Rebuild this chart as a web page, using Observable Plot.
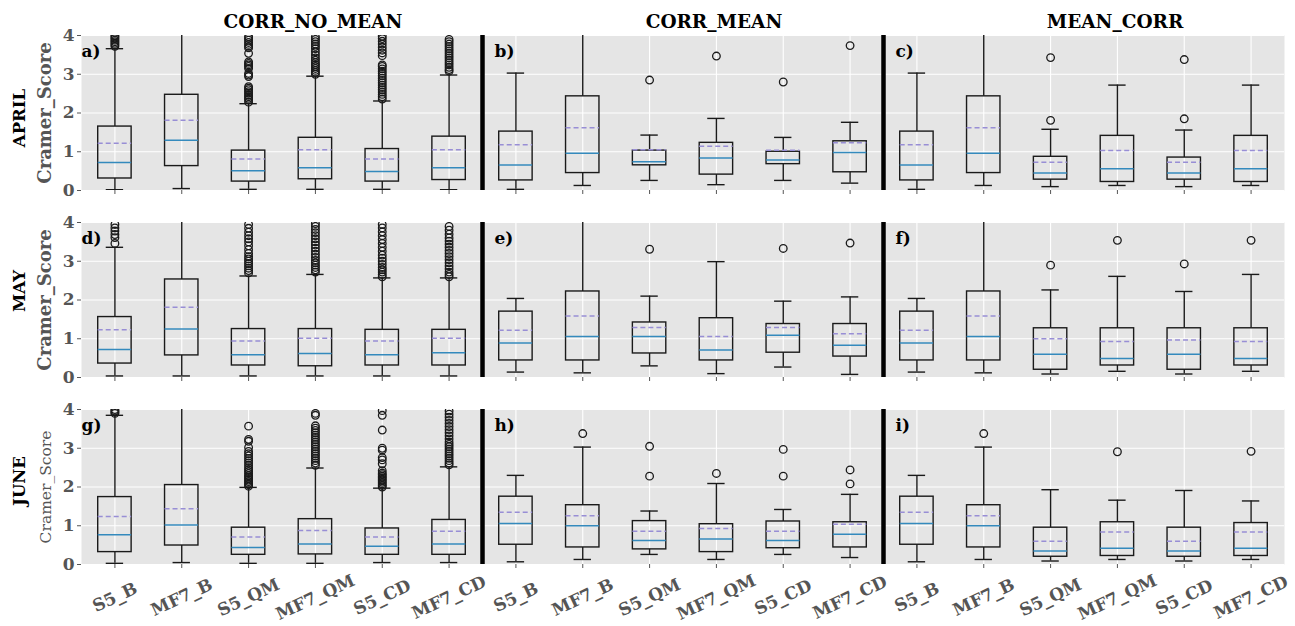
<!DOCTYPE html>
<html>
<head>
<meta charset="utf-8">
<script src="https://cdn.jsdelivr.net/npm/d3@7"></script>
<script src="https://cdn.jsdelivr.net/npm/@observablehq/plot@0.6"></script>
<style>
  html, body { margin: 0; padding: 0; background: #ffffff; }
  #chart { width: 1295px; height: 626px; }
</style>
</head>
<body>
<div id="chart"></div>
<script>
// ---- data ----
const columns = ["CORR_NO_MEAN", "CORR_MEAN", "MEAN_CORR"];
const months = ["APRIL", "MAY", "JUNE"];
const categories = ["S5_B", "MF7_B", "S5_QM", "MF7_QM", "S5_CD", "MF7_CD"];
const panelLetters = ["a)", "b)", "c)", "d)", "e)", "f)", "g)", "h)", "i)"];
const yTicks = [0, 1, 2, 3, 4];
const yLabel = "Cramer_Score";

// one row per panel (a..i), six boxes each
const whiskerLow = [
  [0.02, 0.05, 0.03, 0.03, 0.03, 0.02],
  [0.03, 0.13, 0.26, 0.15, 0.26, 0.19],
  [0.03, 0.13, 0.10, 0.13, 0.10, 0.13],
  [0.04, 0.04, 0.04, 0.04, 0.04, 0.04],
  [0.14, 0.12, 0.30, 0.10, 0.27, 0.08],
  [0.14, 0.12, 0.09, 0.16, 0.09, 0.16],
  [0.03, 0.05, 0.03, 0.03, 0.05, 0.05],
  [0.07, 0.13, 0.26, 0.13, 0.26, 0.18],
  [0.07, 0.13, 0.09, 0.13, 0.09, 0.13]
];
const q1 = [
  [0.31, 0.63, 0.23, 0.29, 0.23, 0.27],
  [0.26, 0.45, 0.65, 0.41, 0.68, 0.47],
  [0.26, 0.45, 0.28, 0.22, 0.28, 0.22],
  [0.36, 0.57, 0.31, 0.29, 0.31, 0.31],
  [0.44, 0.44, 0.62, 0.44, 0.64, 0.54],
  [0.44, 0.44, 0.20, 0.31, 0.20, 0.31],
  [0.32, 0.49, 0.25, 0.26, 0.25, 0.25],
  [0.51, 0.44, 0.39, 0.32, 0.42, 0.44],
  [0.51, 0.44, 0.20, 0.22, 0.20, 0.22]
];
const median = [
  [0.72, 1.30, 0.51, 0.59, 0.49, 0.59],
  [0.66, 0.96, 0.74, 0.84, 0.79, 0.98],
  [0.66, 0.96, 0.45, 0.56, 0.45, 0.56],
  [0.72, 1.25, 0.59, 0.62, 0.59, 0.64],
  [0.89, 1.06, 1.06, 0.71, 1.09, 0.83],
  [0.89, 1.06, 0.60, 0.49, 0.60, 0.49],
  [0.77, 1.02, 0.44, 0.53, 0.47, 0.53],
  [1.06, 1.00, 0.62, 0.66, 0.62, 0.78],
  [1.06, 1.00, 0.35, 0.42, 0.35, 0.42]
];
const mean = [
  [1.22, 1.81, 0.81, 1.05, 0.81, 1.05],
  [1.18, 1.62, 1.05, 1.14, 1.04, 1.23],
  [1.18, 1.62, 0.73, 1.03, 0.73, 1.03],
  [1.23, 1.81, 0.94, 1.01, 0.94, 1.01],
  [1.22, 1.59, 1.29, 1.06, 1.29, 1.13],
  [1.22, 1.59, 1.00, 0.93, 0.97, 0.93],
  [1.24, 1.44, 0.71, 0.88, 0.71, 0.86],
  [1.35, 1.26, 0.86, 0.93, 0.86, 1.04],
  [1.35, 1.26, 0.60, 0.84, 0.60, 0.84]
];
const q3 = [
  [1.65, 2.47, 1.03, 1.36, 1.07, 1.39],
  [1.52, 2.43, 1.03, 1.23, 1.00, 1.27],
  [1.52, 2.43, 0.87, 1.41, 0.85, 1.41],
  [1.56, 2.53, 1.25, 1.25, 1.23, 1.23],
  [1.70, 2.22, 1.42, 1.53, 1.38, 1.38],
  [1.70, 2.22, 1.27, 1.27, 1.27, 1.27],
  [1.74, 2.05, 0.95, 1.17, 0.93, 1.15],
  [1.75, 1.53, 1.12, 1.04, 1.11, 1.09],
  [1.75, 1.53, 0.95, 1.09, 0.95, 1.07]
];
const whiskerHigh = [
  [3.66, 4.6, 2.24, 2.95, 2.31, 2.98],
  [3.03, 4.6, 1.43, 1.86, 1.37, 1.76],
  [3.03, 4.6, 1.58, 2.72, 1.56, 2.72],
  [3.36, 4.6, 2.62, 2.66, 2.57, 2.57],
  [2.04, 4.6, 2.10, 2.99, 1.97, 2.08],
  [2.04, 4.6, 2.26, 2.61, 2.22, 2.66],
  [3.85, 4.6, 1.99, 2.49, 1.97, 2.52],
  [2.30, 3.03, 1.38, 2.09, 1.42, 1.81],
  [2.30, 3.03, 1.93, 1.66, 1.91, 1.64]
];
const outliers = [
  [
    [3.72, 3.76, 3.8, 3.84, 3.88, 3.92, 3.96, 4.0],
    [],
    [2.28, 2.34, 2.38, 2.42, 2.46, 2.51, 2.55, 2.6, 2.64, 2.68, 2.94, 2.98, 3.02, 3.15, 3.2, 3.24, 3.28, 3.32, 3.54, 3.68, 3.72, 3.77, 3.82, 3.88, 3.93, 3.97],
    [3.0, 3.05, 3.1, 3.15, 3.2, 3.25, 3.3, 3.36, 3.42, 3.5, 3.58, 3.66, 3.72, 3.78, 3.84, 3.9, 3.96],
    [2.36, 2.42, 2.48, 2.54, 2.6, 2.66, 2.72, 2.78, 2.84, 2.9, 2.96, 3.02, 3.08, 3.14, 3.2, 3.24, 3.48, 3.55, 3.62, 3.7, 3.78, 3.85, 3.92, 3.98],
    [3.08, 3.12, 3.18, 3.24, 3.3, 3.36, 3.42, 3.48, 3.54, 3.6, 3.66, 3.72, 3.78, 3.84, 3.9]
  ],
  [[], [], [2.85], [3.47], [2.8], [3.74]],
  [[], [], [1.81, 3.43], [], [1.85, 3.38], []],
  [
    [3.46, 3.61, 3.69, 3.78, 3.86, 3.95],
    [],
    [2.7, 2.76, 2.82, 2.88, 2.94, 3.0, 3.06, 3.12, 3.2, 3.3, 3.4, 3.5, 3.58, 3.66, 3.75, 3.85, 3.95],
    [2.72, 2.78, 2.84, 2.9, 2.96, 3.02, 3.1, 3.18, 3.26, 3.34, 3.42, 3.5, 3.58, 3.66, 3.74, 3.82, 3.9, 3.97],
    [2.6, 2.66, 2.72, 2.78, 2.84, 2.92, 3.0, 3.08, 3.16, 3.26, 3.36, 3.46, 3.56, 3.66, 3.76, 3.86, 3.95],
    [2.6, 2.66, 2.72, 2.8, 2.88, 2.96, 3.04, 3.12, 3.2, 3.28, 3.36, 3.44, 3.52, 3.6, 3.7, 3.8, 3.9]
  ],
  [[], [], [3.31], [], [3.33], [3.47]],
  [[], [], [2.90], [3.54], [2.93], [3.54]],
  [
    [3.9, 3.93, 3.96, 4.0],
    [],
    [2.02, 2.06, 2.1, 2.14, 2.18, 2.22, 2.26, 2.3, 2.35, 2.4, 2.45, 2.5, 2.56, 2.62, 2.68, 2.74, 2.8, 2.86, 2.92, 3.02, 3.18, 3.23, 3.57],
    [2.56, 2.62, 2.68, 2.74, 2.8, 2.86, 2.92, 2.98, 3.04, 3.1, 3.16, 3.22, 3.28, 3.34, 3.4, 3.46, 3.52, 3.58, 3.85, 3.9],
    [2.0, 2.04, 2.08, 2.12, 2.16, 2.2, 2.24, 2.28, 2.32, 2.36, 2.42, 2.6, 2.7, 2.76, 2.95, 3.0, 3.47, 3.85, 3.97],
    [2.57, 2.62, 2.68, 2.74, 2.8, 2.86, 2.92, 2.98, 3.04, 3.1, 3.16, 3.24, 3.32, 3.4, 3.48, 3.56, 3.64, 3.72, 3.8, 3.88, 3.96]
  ],
  [[], [3.38], [2.28, 3.05], [2.35], [2.28, 2.97], [2.08, 2.44]],
  [[], [3.38], [], [2.91], [], [2.92]]
];

// ---- build tables ----
const panels = panelLetters.map((letter, p) => ({
  letter, col: columns[p % columns.length], month: months[Math.floor(p / columns.length)], p
}));
const boxes = [];
const fliers = [];
panels.forEach(({col, month, p}) => {
  categories.forEach((cat, i) => {
    const pos = i + 1;
    boxes.push({col, month, cat, pos,
      lo: whiskerLow[p][i], q1: q1[p][i], med: median[p][i],
      mean: mean[p][i], q3: q3[p][i], hi: whiskerHigh[p][i]});
    outliers[p][i].forEach(v => fliers.push({col, month, cat, pos, v}));
  });
});
const positions = categories.map((_, i) => i + 1);
const xDomain = [0.5, categories.length + 0.5];
const separators = panels.filter(d => d.col !== columns[0]);
const xLabels = [];
columns.forEach(col => categories.forEach((cat, i) => xLabels.push({col, cat, pos: i + 1})));
const rowLabels = months.map(m => ({month: m, col: columns[0]}));
const lastMonth = months[months.length - 1];

const serif = "DejaVu Serif";
const boxW = 0.25, capW = 0.13;
const monthText = (m, dy) => Plot.text(rowLabels.filter(d => d.month === m), {
  text: "month", fx: "col", fy: "month", frameAnchor: "left", dx: -62, dy, rotate: -90,
  textAnchor: "middle", lineAnchor: "middle", fontSize: 16.5, fontWeight: "bold", fill: "#000000"
});

const chart = Plot.plot({
  width: 1295,
  height: 626,
  marginTop: 34,
  marginBottom: 60,
  marginLeft: 80,
  marginRight: 10,
  style: {fontFamily: serif, background: "#ffffff"},
  fx: {domain: columns, padding: 0},
  fy: {domain: months, paddingInner: 0.17, paddingOuter: 0, axis: null},
  x: {domain: xDomain},
  y: {domain: [0, 4]},
  marks: [
    Plot.frame({fill: "#e5e5e5", stroke: "none"}),
    Plot.ruleY(yTicks, {stroke: "#ffffff", strokeWidth: 1.1}),
    Plot.ruleX(positions, {stroke: "#ffffff", strokeWidth: 1.1}),
    // whiskers
    Plot.ruleX(boxes, {x: "pos", y1: "q3", y2: "hi", fx: "col", fy: "month", stroke: "#1a1a1a", strokeWidth: 1.4, clip: true}),
    Plot.ruleX(boxes, {x: "pos", y1: "lo", y2: "q1", fx: "col", fy: "month", stroke: "#1a1a1a", strokeWidth: 1.4, clip: true}),
    Plot.ruleY(boxes, {y: "hi", x1: d => d.pos - capW, x2: d => d.pos + capW, fx: "col", fy: "month", stroke: "#1a1a1a", strokeWidth: 1.4, clip: true}),
    Plot.ruleY(boxes, {y: "lo", x1: d => d.pos - capW, x2: d => d.pos + capW, fx: "col", fy: "month", stroke: "#1a1a1a", strokeWidth: 1.4, clip: true}),
    // boxes
    Plot.rect(boxes, {x1: d => d.pos - boxW, x2: d => d.pos + boxW, y1: "q1", y2: "q3", fx: "col", fy: "month", fill: "none", stroke: "#1a1a1a", strokeWidth: 1.4}),
    // median & mean
    Plot.ruleY(boxes, {y: "med", x1: d => d.pos - boxW, x2: d => d.pos + boxW, fx: "col", fy: "month", stroke: "#348ABD", strokeWidth: 1.5}),
    Plot.ruleY(boxes, {y: "mean", x1: d => d.pos - boxW, x2: d => d.pos + boxW, fx: "col", fy: "month", stroke: "#988ED5", strokeWidth: 1.5, strokeDasharray: "5,3"}),
    // outliers
    Plot.dot(fliers, {x: "pos", y: "v", fx: "col", fy: "month", r: 3.8, stroke: "#1a1a1a", strokeWidth: 1.3, fill: "none", clip: true}),
    // column separators
    Plot.ruleX(separators, {x: () => xDomain[0], fx: "col", fy: "month", stroke: "#000000", strokeWidth: 4.5}),
    // panel letters
    Plot.text(panels.filter(d => d.col === columns[0]), {text: "letter", fx: "col", fy: "month", frameAnchor: "top-left", dx: 0, dy: 16, textAnchor: "start", lineAnchor: "middle", fontSize: 17, fontWeight: "bold", fill: "#000000"}),
    Plot.text(panels.filter(d => d.col !== columns[0]), {text: "letter", fx: "col", fy: "month", frameAnchor: "top-left", dx: 12, dy: 16, textAnchor: "start", lineAnchor: "middle", fontSize: 17, fontWeight: "bold", fill: "#000000"}),
    // axes
    Plot.axisY({ticks: yTicks, tickFormat: d3.format("d"), tickSize: 4, tickPadding: 3, fontSize: 17, fontWeight: "bold", color: "#555555", label: null}),
    Plot.axisX({ticks: positions, tickSize: 4, stroke: "#555555", fill: "none", facetAnchor: null, label: null}),
    Plot.axisFx({anchor: "top", tickSize: 0, tickPadding: 8, dx: 31, fontSize: 18.5, fontWeight: "bold", fill: "#000000", label: null}),
    // bottom category labels
    Plot.text(xLabels, {x: "pos", fx: "col", fy: () => lastMonth, text: "cat", frameAnchor: "bottom", dy: 33, rotate: -25, textAnchor: "middle", lineAnchor: "middle", fontSize: 17, fontWeight: "bold", fill: "#555555"}),
    // row labels
    monthText(months[0], 5),
    monthText(months[1], -9),
    monthText(months[2], -6),
    Plot.text(rowLabels.filter(d => d.month !== lastMonth), {text: () => yLabel, fx: "col", fy: "month", frameAnchor: "left", dx: -36, rotate: -90, textAnchor: "middle", lineAnchor: "middle", fontSize: 18, fontWeight: "bold", fill: "#555555"}),
    Plot.text(rowLabels.filter(d => d.month === lastMonth), {text: () => yLabel, fx: "col", fy: "month", frameAnchor: "left", dx: -35, rotate: -90, textAnchor: "middle", lineAnchor: "middle", fontSize: 15.5, fill: "#555555"})
  ]
});
document.getElementById("chart").appendChild(chart);
</script>
</body>
</html>
